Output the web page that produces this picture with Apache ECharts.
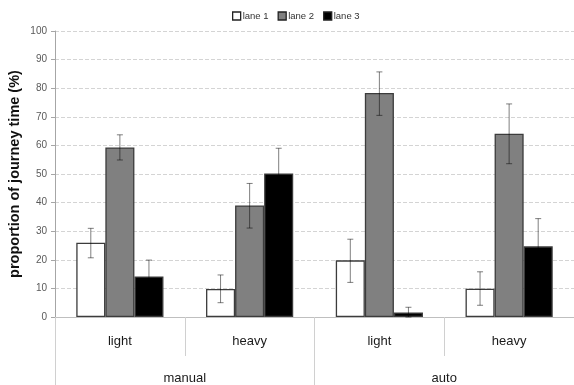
<!DOCTYPE html>
<html>
<head>
<meta charset="utf-8">
<script src="https://cdn.jsdelivr.net/npm/echarts@6/dist/echarts.min.js"></script>
<style>html,body{margin:0;padding:0;background:#fff;}#c{width:574px;height:385px;}</style>
</head>
<body>
<div id="c"></div>
<script>
var categories = ['light', 'heavy', 'light', 'heavy'];
var groups = ['manual', 'auto'];
var yTicks = [0, 10, 20, 30, 40, 50, 60, 70, 80, 90, 100];
var seriesNames = ['lane 1', 'lane 2', 'lane 3'];
var lane1 = [26, 9.8, 19.8, 9.9];
var lane1Low = [20.7, 5.0, 12.1, 4.1];
var lane1High = [31, 14.7, 27.2, 15.8];
var lane2 = [59.3, 39.0, 78.3, 64.1];
var lane2Low = [54.9, 31.1, 70.5, 53.6];
var lane2High = [63.7, 46.7, 85.7, 74.5];
var lane3 = [14.2, 50.2, 1.6, 24.7];
var lane3Low = [8.5, 41.4, 0, 15.0];
var lane3High = [19.9, 59.0, 3.4, 34.4];

var colors = ['#ffffff', '#808080', '#000000'];
var barFrac = 0.224;
var values = [lane1, lane2, lane3];
var lows = [lane1Low, lane2Low, lane3Low];
var highs = [lane1High, lane2High, lane3High];

var chart = echarts.init(document.getElementById('c'));
var series = [];
values.forEach(function (v, i) {
  series.push({
    name: seriesNames[i],
    type: 'bar',
    data: v,
    barWidth: (barFrac * 100) + '%',
    barGap: '0%',
    itemStyle: { color: colors[i], borderColor: '#3c3c3c', borderWidth: 1.3 },
    z: 2
  });
});
values.forEach(function (v, i) {
  var d = v.map(function (_, k) { return [k, lows[i][k], highs[i][k]]; });
  series.push({
    type: 'custom',
    data: d,
    encode: { x: 0, y: [1, 2] },
    z: 5,
    silent: true,
    renderItem: function (params, api) {
      var cat = api.value(0);
      var lo = api.coord([cat, api.value(1)]);
      var hi = api.coord([cat, api.value(2)]);
      var w = api.size([1, 0])[0];
      var x = lo[0] + (i - 1) * barFrac * w;
      var cap = 3;
      var st = { stroke: 'rgba(0,0,0,0.5)', lineWidth: 1 };
      return {
        type: 'group',
        children: [
          { type: 'line', shape: { x1: x, y1: lo[1], x2: x, y2: hi[1] }, style: st },
          { type: 'line', shape: { x1: x - cap, y1: hi[1], x2: x + cap, y2: hi[1] }, style: st },
          { type: 'line', shape: { x1: x - cap, y1: lo[1], x2: x + cap, y2: lo[1] }, style: st }
        ]
      };
    }
  });
});

chart.setOption({
  animation: false,
  textStyle: { fontFamily: 'Liberation Sans, Arial, sans-serif' },
  legend: {
    data: seriesNames,
    top: 6,
    left: 227,
    itemWidth: 8,
    itemHeight: 8,
    itemGap: 9,
    icon: 'rect',
    textStyle: { fontSize: 9.5, color: '#333', padding: [0, 0, 0, -3] },
    itemStyle: { borderColor: '#222', borderWidth: 1.3 }
  },
  grid: { left: 55, right: 0, top: 31, bottom: 68, containLabel: false, outerBoundsMode: 'none' },
  xAxis: [{
    type: 'category',
    data: categories,
    axisLine: { lineStyle: { color: '#bfbfbf', width: 1 } },
    axisTick: { show: true, interval: 0, length: 39, lineStyle: { color: '#d0d0d0' } },
    axisLabel: { interval: 0, margin: 18, fontSize: 13, color: '#1a1a1a' },
    splitLine: { show: false }
  }, {
    type: 'category',
    data: groups,
    position: 'bottom',
    axisLine: { show: false },
    axisTick: { show: true, interval: 0, length: 68, lineStyle: { color: '#d0d0d0' } },
    axisLabel: { interval: 0, margin: 55, fontSize: 13, color: '#1a1a1a' },
    splitLine: { show: false }
  }],
  yAxis: {
    type: 'value',
    min: yTicks[0],
    max: yTicks[yTicks.length - 1],
    interval: 10,
    name: 'proportion of journey time (%)',
    nameLocation: 'middle',
    nameGap: 33,
    nameMoveOverlap: false,
    nameTextStyle: { fontSize: 14.5, fontWeight: 'bold', color: '#111' },
    axisLine: { show: true, lineStyle: { color: '#a6a6a6' } },
    axisTick: { show: true, length: 4, lineStyle: { color: '#a6a6a6' } },
    axisLabel: { fontSize: 10, color: '#595959', margin: 8 },
    splitLine: { show: true, lineStyle: { color: '#d4d4d4', type: [4, 2] } }
  },
  series: series
});
</script>
</body>
</html>
